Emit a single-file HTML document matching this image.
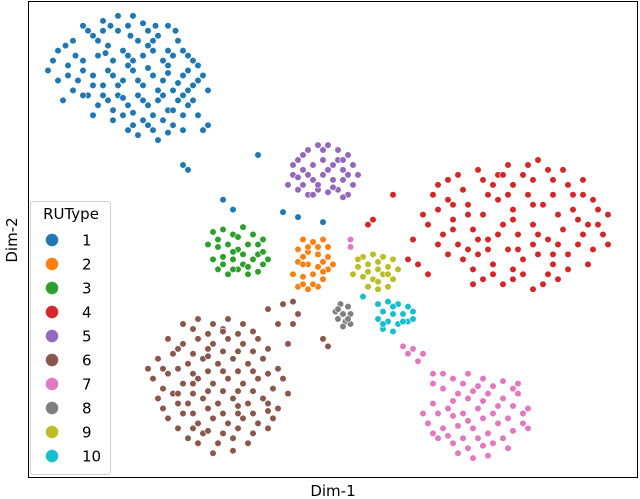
<!DOCTYPE html>
<html><head><meta charset="utf-8"><style>
body{margin:0;background:#fff}
svg{display:block;font-family:"DejaVu Sans","Liberation Sans",sans-serif}
</style></head><body>
<svg id="chart" width="640" height="499" viewBox="0 0 640 499">
<rect x="28.5" y="1.5" width="609" height="476" fill="none" stroke="#000" stroke-width="1"/>
<g id="pts"></g>
<text x="333" y="496" font-size="15" text-anchor="middle">Dim-1</text>
<text x="0" y="0" font-size="15" text-anchor="middle" transform="translate(17,240) rotate(-90)">Dim-2</text>
<g id="legend"></g>
</svg>
<script>
const categories = ["1","2","3","4","5","6","7","8","9","10"];
const colors = ["#1f77b4","#ff7f0e","#2ca02c","#d62728","#9467bd","#8c564b","#e377c2","#7f7f7f","#bcbd22","#17becf"];
const series1 = [[-55,38],[-52,40],[-50,43],[-48,41],[-46,44],[-45,39],[-43,42],[-41,43],[-39,40],[-37,42],[-35,41],[-33,43],[-31,40],[-53,35],[-50,36],[-47,37],[-44,36],[-42,38],[-40,36],[-38,37],[-36,38],[-34,36],[-32,37],[-30,38],[-28,36],[-51,32],[-48,33],[-46,31],[-44,33],[-42,32],[-40,34],[-38,31],[-36,33],[-34,32],[-32,30],[-30,33],[-28,31],[-26,33],[-49,29],[-47,27],[-45,28],[-43,29],[-41,27],[-39,29],[-37,27],[-35,28],[-33,26],[-31,28],[-29,27],[-27,25],[-44,24],[-42,25],[-40,23],[-38,24],[-36,22],[-34,24],[-32,23],[-30,22],[-57,34],[-55,32],[-52,30],[-46,42],[-40,45],[-36,40],[-33,35],[-29,30],[-39,21],[-35,20],[-26,22],[-25,23],[-30,15],[-29,14],[-15,17],[-22,8],[-20,6],[-10,5.5],[-7,4.5],[-2,3.5],[-30,25],[-48,25],[-54,28],
[-53.5,39],[-49,42],[-44.5,43],[-40.5,41],[-35.5,43],[-31.5,42],[-51.5,37],[-45.5,37.5],[-41,37],[-37,39],[-33,38],[-29,37],[-50,34],[-45,34],[-41,35],[-37,34.5],[-33,33.5],[-29,34],[-27,32],[-48,31],[-43,31],[-39,32],[-35,30],[-31,31.5],[-46,29],[-42,28.5],[-38,28],[-34,29],[-30,29],[-28,28],[-44,26],[-40,25.5],[-36,25],[-32,26],[-41,22],[-37,23],[-33,21.5],[-56,36],[-53,33],[-50,29],[-47,40],[-43,45],[-38,43.5],[-27,35],[-25,30]];
const series2 = [[-6,0],[-4,-0.5],[-2,0],[-1,-1.5],[-7,-2],[-5,-2.5],[-3,-3],[-1,-3.5],[-7,-4.5],[-5,-5],[-3,-5.5],[-1,-6],[0,-5],[-8,-7],[-6,-7.5],[-4,-7],[-2,-8],[-7,-9.5],[-5,-10],[-3,-9.5],[-6,-5],[-2,-4.5],[-5,-1.5],[-3,-1.5],[-6,-3.5],[-2,-6.5],[-4,-9],[-6,-9]];
const series3 = [[-24,1.5],[-22,2],[-20,1],[-18,2.5],[-16,1],[-14,0],[-25,-1],[-23,-1.5],[-21,-1],[-19,-2],[-17,-1],[-15,-3],[-24,-4],[-22,-3.5],[-20,-4],[-18,-5],[-16,-4],[-14,-5],[-23,-6],[-21,-7],[-19,-6],[-17,-7],[-15,-6.5],[-13,-4],[-20,-2.5],[-23,0],[-19,0.5],[-15,-1],[-22,-5],[-18,-3],[-14,-2.5],[-17,-5.5],[-20,-6]];
const series4 = [[20,9],[23,12],[26,10],[29,14],[32,11],[35,15],[38,13],[41,16],[44,12],[47,11],[50,9],[53,6],[18,5],[21,6],[24,4],[27,7],[30,5],[33,8],[36,6],[39,9],[42,7],[45,5],[48,6],[51,3],[54,1],[22,1],[25,-1],[28,2],[31,0],[34,3],[37,1],[40,3],[43,0],[46,2],[49,-1],[52,-2],[26,-4],[29,-3],[32,-5],[35,-2],[38,-4],[41,-3],[44,-5],[47,-6],[30,-8],[34,-9],[38,-7],[42,-9],[45,-8],[24,7],[36,11],[40,12],[16,0],[17,-5],[19,-7],[15,-4],[13,-6],[12,9],[7,3],[8,4],[46,14],[33,13],[28,-6],[50,12],[55,5],
[21,11],[25,13],[30,12],[34,13],[39,15],[43,14],[48,9],[52,8],[19,3],[23,8],[27,5],[31,9],[35,9],[40,7],[44,9],[49,4],[53,3],[21,-1],[24,2],[29,0],[33,1],[36,4],[41,1],[45,-1],[50,1],[55,-1],[23,-3],[27,-2],[31,-2],[36,-6],[40,-1],[43,-7],[47,-3],[51,-5],[28,-9],[32,-7],[36,-8],[40,-10],[44,-3],[37,-2]];
const series5 = [[-7,16],[-5,18],[-3,19],[-1,19],[1,18],[3,17],[-8,13],[-6,14],[-4,15],[-2,16],[0,15],[2,14],[4,15],[-9,11],[-6,11],[-4,12],[-2,13],[0,12],[2,12],[4,11],[-5,9],[-3,10],[-1,9.5],[1,10],[3,9],[-7,12.5],[5,13],[-1,14],[1,16],[-3,11],[-6,17],[-2,18],[2,16],[-8,15],[-5,13],[3,13],[-7,10],[0,10.5],[2,8.5],[-4,9]];
const series6 = [[-30,-17],[-27,-16],[-24,-17],[-21,-16],[-18,-17],[-33,-20],[-30,-21],[-27,-20],[-24,-21],[-21,-20],[-18,-21],[-15,-20],[-35,-24],[-32,-23],[-29,-25],[-26,-24],[-23,-25],[-20,-24],[-17,-25],[-14,-24],[-11,-26],[-36,-28],[-33,-27],[-30,-29],[-27,-28],[-24,-29],[-21,-28],[-18,-29],[-15,-28],[-12,-30],[-35,-32],[-32,-31],[-29,-33],[-26,-32],[-23,-33],[-20,-32],[-17,-33],[-14,-32],[-11,-34],[-33,-36],[-30,-35],[-27,-37],[-24,-36],[-21,-37],[-18,-36],[-15,-37],[-12,-36],[-29,-40],[-26,-39],[-23,-41],[-20,-40],[-17,-41],[-37,-26],[-9,-31],[-25,-22],[-19,-35],[-28,-31],[-13,-14],[-10,-13],[-8,-12.5],[-7,-15],[-8,-17],[-11,-17],[-2,-20],[-1,-21.5],[-9,-21],[-22,-18],
[-28,-18],[-25,-19],[-22,-18.5],[-19,-19],[-16,-18.5],[-31,-22],[-28,-23],[-25,-23.5],[-22,-22.5],[-19,-22.5],[-16,-22.5],[-13,-22],[-34,-26],[-31,-26],[-28,-27],[-25,-26.5],[-22,-26.5],[-19,-26.5],[-16,-26.5],[-13,-27],[-10,-28],[-34,-30],[-31,-31],[-28,-29],[-25,-30.5],[-22,-30.5],[-19,-30.5],[-16,-30.5],[-13,-33],[-34,-34],[-31,-33],[-28,-35],[-25,-34],[-22,-35],[-19,-33.5],[-16,-35],[-13,-34.5],[-31,-38],[-28,-38],[-25,-38.5],[-22,-39],[-19,-38],[-16,-39],[-13,-38],[-24,-43],[-27,-41],[-20,-42.5]];
const series7 = [[14,-21.5],[16,-22],[18,-23],[20,-27],[24,-28],[27,-27],[30,-28],[34,-28.5],[37,-29],[22,-30],[25,-31],[28,-30.5],[31,-31],[34,-32],[37,-31],[39,-34],[20,-33],[23,-34],[26,-35],[29,-34],[32,-35],[35,-36],[38,-37],[19,-37],[22,-38],[25,-37.5],[28,-38],[31,-39],[34,-40],[21,-40],[24,-41],[27,-42],[30,-41.5],[28,-44],[20,-29],[3.5,0],[3.5,-1.5],[33,-37],
[15,-23],[17,-24.5],[22,-27],[26,-29],[29,-29.5],[32,-29.5],[36,-30],[24,-32.5],[27,-32],[30,-32.5],[33,-33.5],[36,-33.5],[38,-35],[21,-35],[24,-35.5],[27,-36.5],[30,-36],[36,-38.5],[20,-39],[23,-39.5],[26,-40],[29,-40],[32,-41],[25,-43],[31,-43.5],[35,-42],[39,-38],[18,-35]];
const series8 = [[1.5,-13],[3,-13.5],[0.5,-14.5],[2,-15],[3.5,-15],[1,-16],[2.5,-16.5],[2,-17.5],[3.5,-17],[1,-14],[3,-16]];
const series9 = [[6,-3.5],[8,-3],[10,-3.5],[12,-4],[5,-5.5],[7,-5],[9,-6],[11,-5.5],[13,-6],[4,-7],[6,-7.5],[8,-8],[10,-7],[12,-8],[7,-9.5],[9,-10],[11,-9.5],[9,-4.5],[7,-6.5],[11,-7],[5,-4],[9,-8.5]];
const series10 = [[9,-13],[11,-12.5],[13,-13],[15,-13.5],[10,-14.5],[12,-15],[14,-15],[16,-14.5],[9,-16],[11,-16.5],[13,-17],[15,-16.5],[10,-18],[12,-18.5],[6,-11.5],[12,-13.5],[14,-16.5],[10,-17],[16,-16]];
const allSeries = [series1,series2,series3,series4,series5,series6,series7,series8,series9,series10];

const NS = "http://www.w3.org/2000/svg";
function xScale(v){ return 333 + v*5; }
function yScale(v){ return 239.5 - v*4.97; }

const pts = document.getElementById('pts');
allSeries.forEach((s, i) => {
  s.forEach(p => {
    const c = document.createElementNS(NS, 'circle');
    
    
    c.setAttribute('cx', xScale(p[0]));
    c.setAttribute('cy', yScale(p[1]));
    c.setAttribute('r', 3.3);
    c.setAttribute('fill', colors[i]);
    c.setAttribute('stroke', '#fff');
    c.setAttribute('stroke-width', 0.6);
    pts.appendChild(c);
  });
});

const lg = document.getElementById('legend');
const box = document.createElementNS(NS, 'rect');


box.setAttribute('x', 30.5); box.setAttribute('y', 201.5);
box.setAttribute('width', 80); box.setAttribute('height', 273);
box.setAttribute('rx', 3); box.setAttribute('fill', '#fff'); box.setAttribute('fill-opacity', 0.85);
box.setAttribute('stroke', '#d0d0d0');
lg.appendChild(box);
const title = document.createElementNS(NS, 'text');


title.setAttribute('x', 71); title.setAttribute('y', 219);
title.setAttribute('font-size', 15); title.setAttribute('text-anchor', 'middle');
title.textContent = 'RUType';
lg.appendChild(title);
categories.forEach((cat, i) => {
  const y = 240 + i*24;
  const m = document.createElementNS(NS, 'circle');
  
  
  m.setAttribute('cx', 52); m.setAttribute('cy', y); m.setAttribute('r', 6.5);
  m.setAttribute('fill', colors[i]); m.setAttribute('stroke', '#fff'); m.setAttribute('stroke-width', 0.8);
  m.setAttribute('stroke-dasharray', '1.5 1');
  lg.appendChild(m);
  const t = document.createElementNS(NS, 'text');
  
  
  t.setAttribute('x', 82); t.setAttribute('y', y + 5.5);
  t.setAttribute('font-size', 15);
  t.textContent = cat;
  lg.appendChild(t);
});
</script>
</body></html>
